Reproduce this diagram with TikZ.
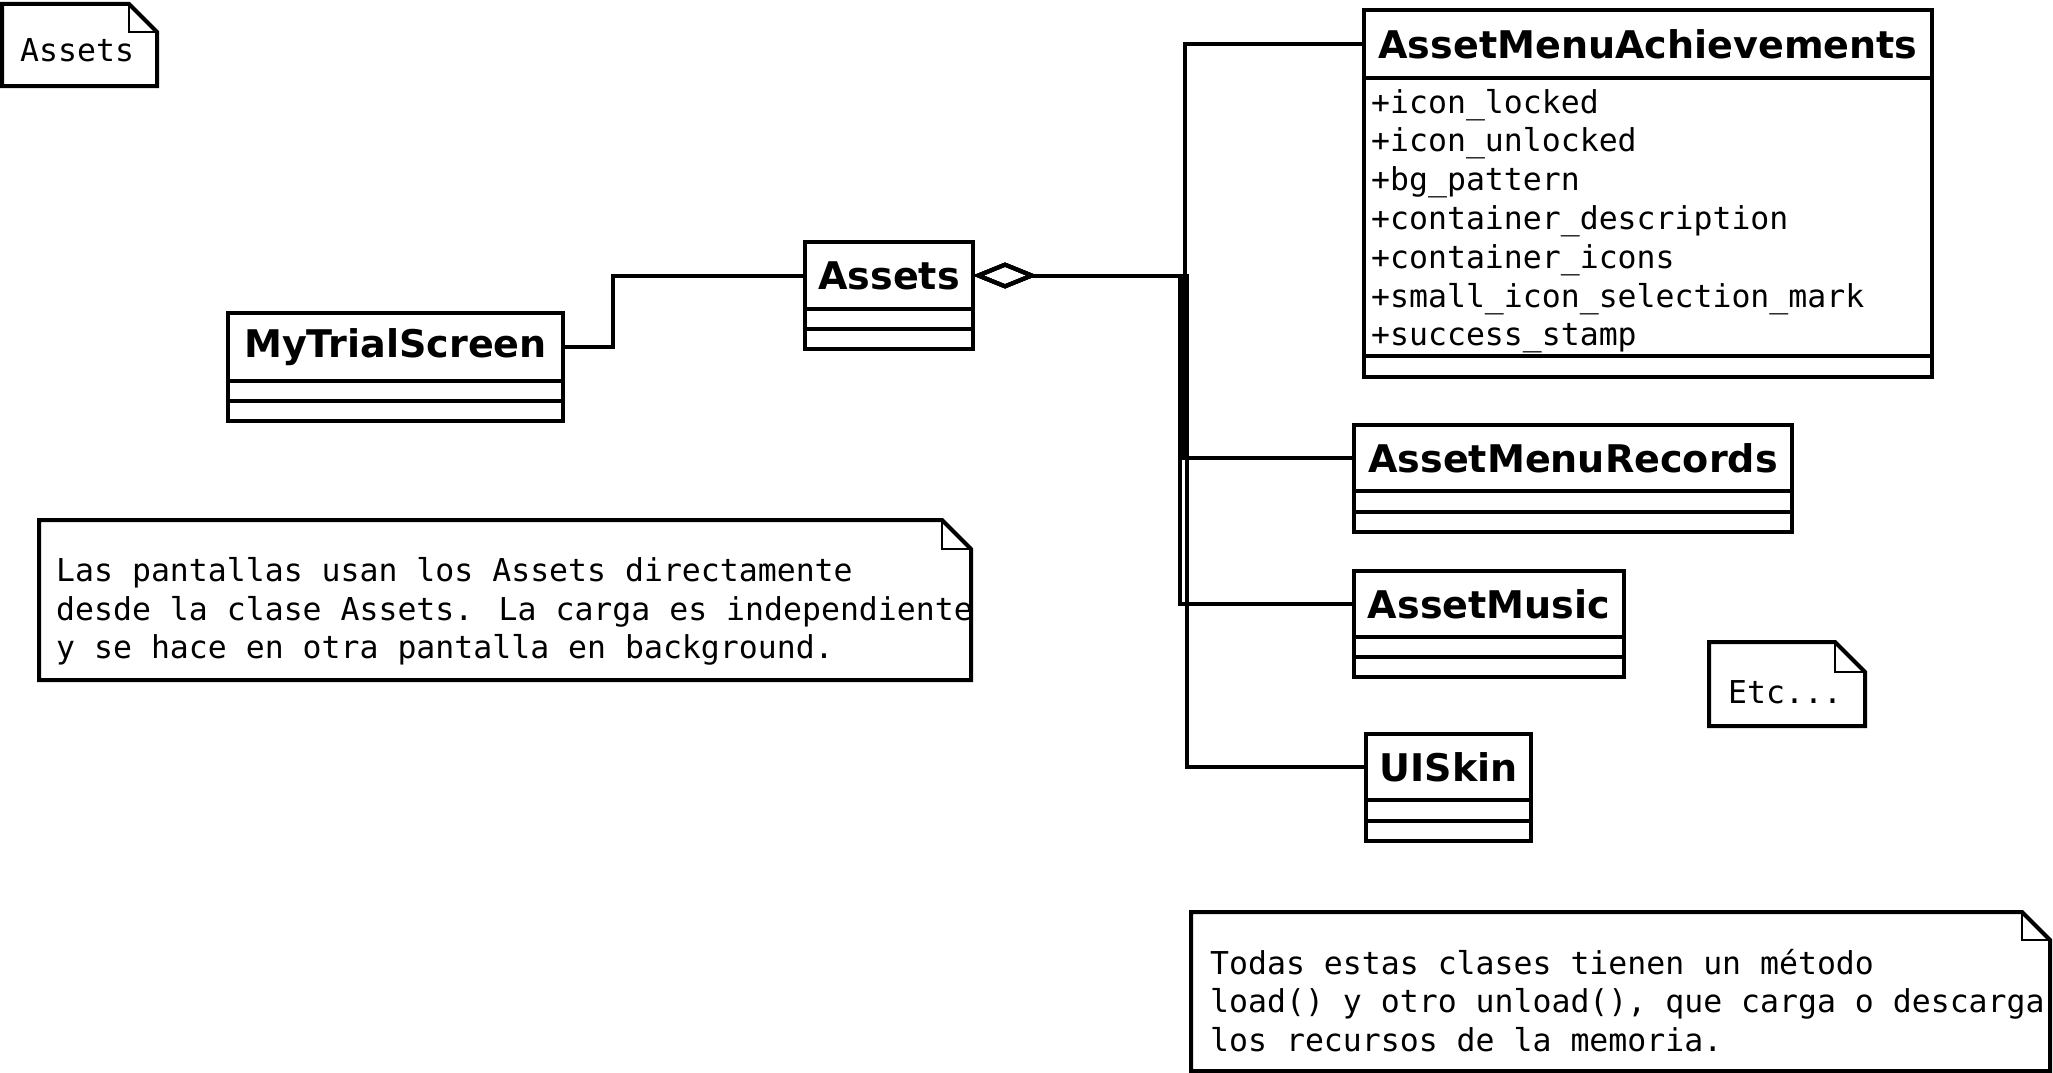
\documentclass[tikz,border=0pt]{standalone}
\usepackage{fontspec}
\usepackage{tikz}
\usetikzlibrary{positioning,arrows.meta}
\newfontfamily\clsfamily{DejaVu Sans}
\newfontfamily\monofamily{DejaVu Sans Mono}
\newcommand\clsfont{\clsfamily\bfseries\fontsize{38.1}{45}\selectfont}
\newcommand\notefont{\monofamily\fontsize{31.5}{38.6}\selectfont}
\tikzset{
  clsname/.style={draw,line width=4pt,outer sep=0pt,inner sep=0pt,anchor=north west,minimum height=67pt,font=\clsfont},
  clsbar/.style={draw,line width=4pt,outer sep=0pt,inner sep=0pt,minimum height=20pt},
  notebox/.style={anchor=north west,inner sep=0pt,outer sep=0pt},
  noteline/.style={line width=4pt,line join=miter},
  fold/.style={line width=2pt},
  txt/.style={anchor=base west,inner sep=0pt,font=\notefont},
  link/.style={line width=4pt},
  agg/.style={{Diamond[open,length=64pt,width=26pt]}-,line width=4pt}}

\begin{document}
\begin{tikzpicture}[x=1pt,y=-1pt]
  \path[fill=white,use as bounding box] (0,0) rectangle (2053,1073);
  % classes
  \node[clsname,minimum width=335pt,minimum height=68pt] (trial) at (228,313) {MyTrialScreen};
  \node[clsbar,minimum width=335pt,below=0pt of trial] (trial-a) {};
  \node[clsbar,minimum width=335pt,below=0pt of trial-a] (trial-o) {};
  \node[clsname,minimum width=168pt] (assets) at (805,242) {Assets};
  \node[clsbar,minimum width=168pt,below=0pt of assets] (assets-a) {};
  \node[clsbar,minimum width=168pt,below=0pt of assets-a] (assets-o) {};
  \node[clsname,minimum width=568pt,minimum height=68pt] (achv) at (1364,10) {AssetMenuAchievements};
  \node[clsbar,minimum width=568pt,minimum height=278pt,below=0pt of achv] (achv-a) {};
  \node[clsbar,minimum width=568pt,minimum height=21pt,below=0pt of achv-a] (achv-o) {};
  \foreach \attr [count=\i from 0] in {+icon\_locked,+icon\_unlocked,+bg\_pattern,
      +container\_description,+container\_icons,+small\_icon\_selection\_mark,+success\_stamp}
    \node[txt] (achv-\i) at (1371,113+38.8*\i) {\attr};
  \node[clsname,minimum width=438pt,minimum height=66pt] (records) at (1354,425) {AssetMenuRecords};
  \node[clsbar,minimum width=438pt,minimum height=20.5pt,below=0pt of records] (records-a) {};
  \node[clsbar,minimum width=438pt,minimum height=20.5pt,below=0pt of records-a] (records-o) {};
  \node[clsname,minimum width=270pt,minimum height=66pt] (music) at (1354,571) {AssetMusic};
  \node[clsbar,minimum width=270pt,below=0pt of music] (music-a) {};
  \node[clsbar,minimum width=270pt,below=0pt of music-a] (music-o) {};
  \node[clsname,minimum width=165pt,minimum height=66pt] (skin) at (1366,734) {UISkin};
  \node[clsbar,minimum width=165pt,minimum height=20.5pt,below=0pt of skin] (skin-a) {};
  \node[clsbar,minimum width=165pt,minimum height=20.5pt,below=0pt of skin-a] (skin-o) {};
  % connectors
  \coordinate (jog) at (613,310);
  \coordinate (busa) at (1185,276);
  \coordinate (busb) at (1183,276);
  \coordinate (busc) at (1180,276);
  \coordinate (busd) at (1187,276);
  \draw[link] (trial.east) -| (jog) |- (assets.west);
  \draw[agg] (assets.east) -- (assets.east -| busa) |- (achv.west);
  \draw[agg] (assets.east) -- (assets.east -| busb) |- (records.west);
  \draw[agg] (assets.east) -- (assets.east -| busc) |- (music.west);
  \draw[agg] (assets.east) -- (assets.east -| busd) |- (skin.west);
  % notes
  \node[notebox,minimum width=155pt,minimum height=82pt] (nhead) at (2,4) {};
  \draw[noteline] (nhead.north west) -- ([xshift=-28pt]nhead.north east) -- ([yshift=-28pt]nhead.north east)
    -- (nhead.south east) -- (nhead.south west) -- cycle;
  \draw[fold] ([xshift=-28pt]nhead.north east) |- ([yshift=-28pt]nhead.north east);
  \node[txt] (nhead-t) at (20,62) {Assets};
  \node[notebox,minimum width=932pt,minimum height=160pt] (nload) at (39,520) {};
  \draw[noteline] (nload.north west) -- ([xshift=-29pt]nload.north east) -- ([yshift=-29pt]nload.north east)
    -- (nload.south east) -- (nload.south west) -- cycle;
  \draw[fold] ([xshift=-29pt]nload.north east) |- ([yshift=-29pt]nload.north east);
  \node[txt] (nload-1) at (56,581.5) {Las pantallas usan los Assets directamente};
  \node[txt] (nload-2) at (56,620) {desde la clase Assets. La carga es independiente};
  \node[txt] (nload-3) at (56,658.5) {y se hace en otra pantalla en background.};
  \node[notebox,minimum width=156pt,minimum height=84pt] (netc) at (1709,642) {};
  \draw[noteline] (netc.north west) -- ([xshift=-30pt]netc.north east) -- ([yshift=-30pt]netc.north east)
    -- (netc.south east) -- (netc.south west) -- cycle;
  \draw[fold] ([xshift=-30pt]netc.north east) |- ([yshift=-30pt]netc.north east);
  \node[txt] (netc-t) at (1728,703) {Etc...};
  \node[notebox,minimum width=859pt,minimum height=159pt] (nmethod) at (1191,912) {};
  \draw[noteline] (nmethod.north west) -- ([xshift=-28pt]nmethod.north east) -- ([yshift=-28pt]nmethod.north east)
    -- (nmethod.south east) -- (nmethod.south west) -- cycle;
  \draw[fold] ([xshift=-28pt]nmethod.north east) |- ([yshift=-28pt]nmethod.north east);
  \node[txt] (nmethod-1) at (1210,974) {Todas estas clases tienen un método};
  \node[txt] (nmethod-2) at (1210,1012.5) {load() y otro unload(), que carga o descarga};
  \node[txt] (nmethod-3) at (1210,1051) {los recursos de la memoria.};
\end{tikzpicture}
\end{document}
